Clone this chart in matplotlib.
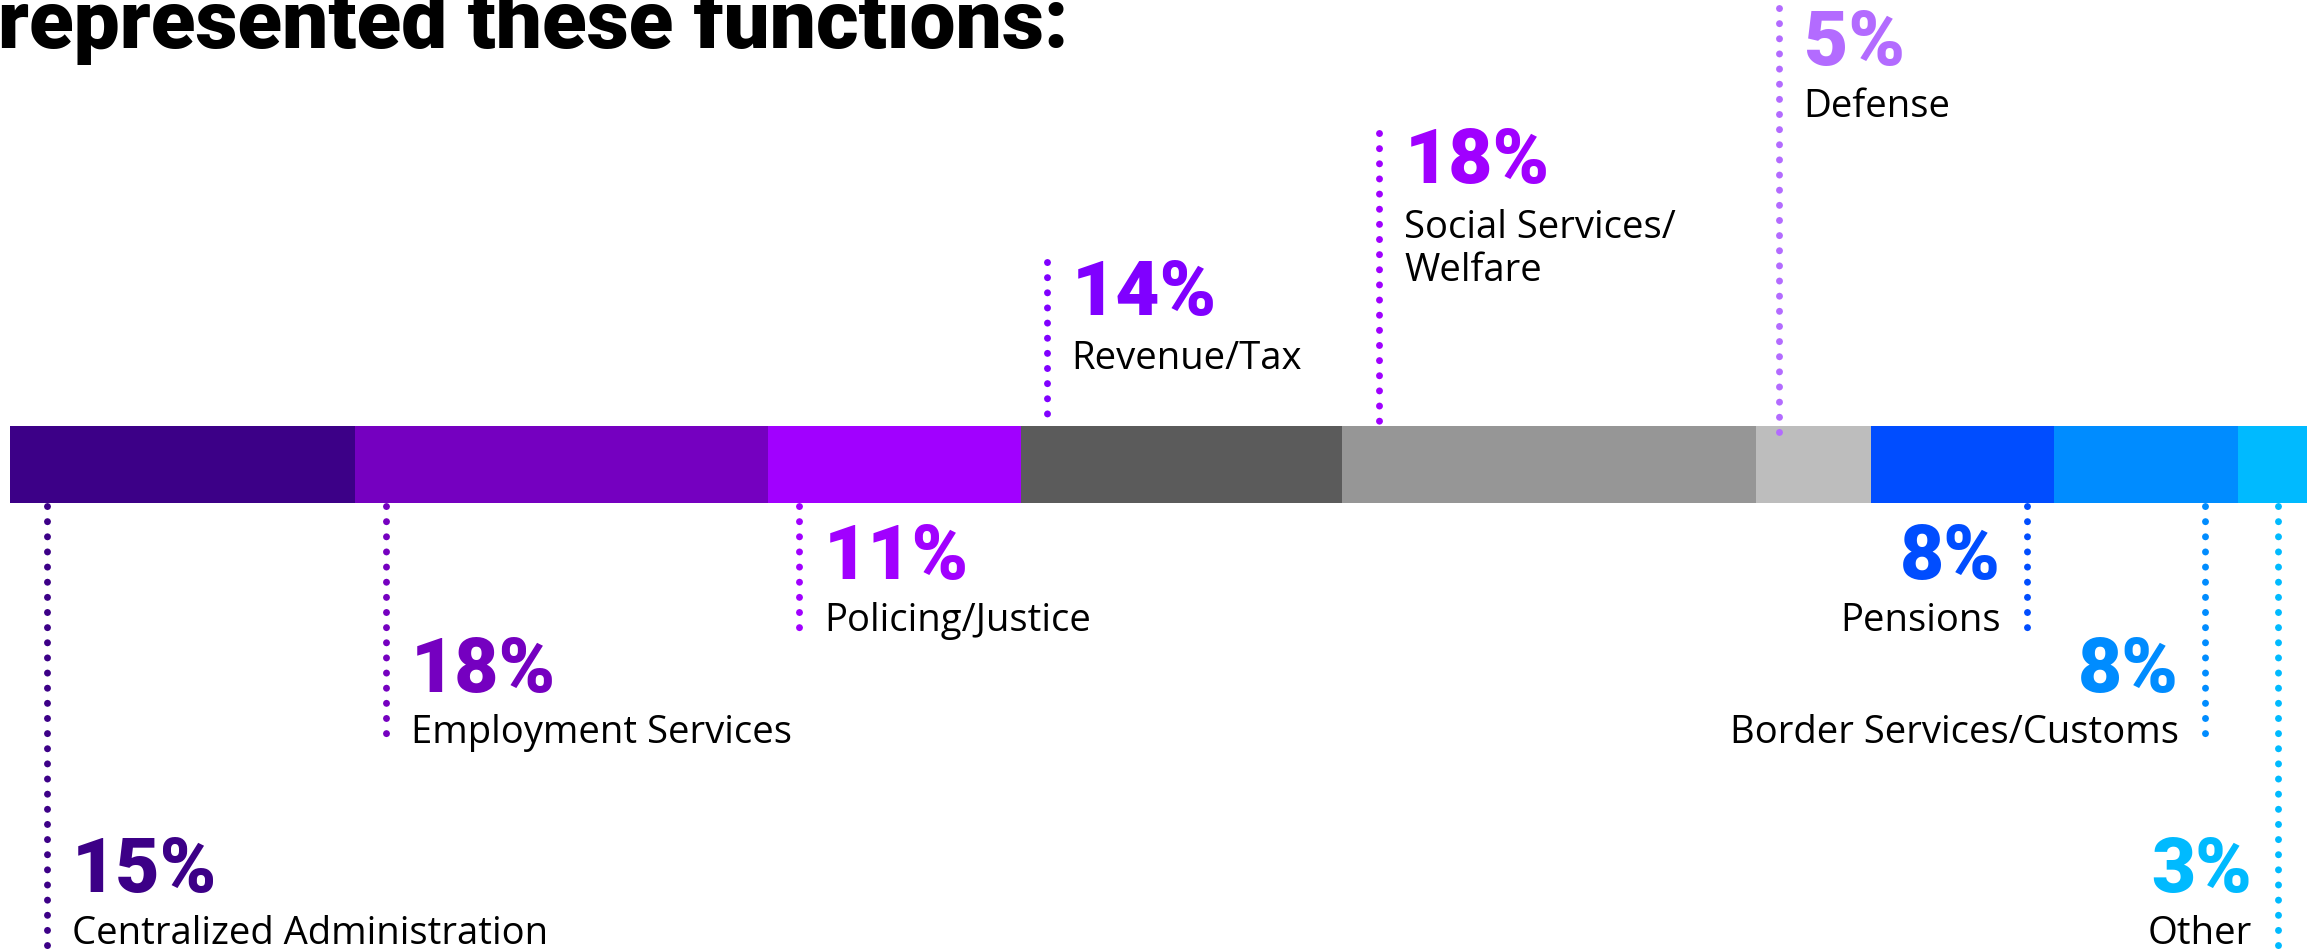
import matplotlib
matplotlib.use("Agg")
import matplotlib.pyplot as plt

# Share of respondents by government function
functions = ["Centralized Administration", "Employment Services", "Policing/Justice",
             "Revenue/Tax", "Social Services/\nWelfare", "Defense",
             "Pensions", "Border Services/Customs", "Other"]
shares = [15, 18, 11, 14, 18, 5, 8, 8, 3]
bar_colors = ["#3C0087", "#7500C0", "#A100FF", "#5B5B5B", "#969696", "#BDBDBD",
              "#004DFF", "#008CFF", "#00BAFF"]
text_colors = ["#3C0087", "#7500C0", "#A100FF", "#8000FF", "#A000FF", "#B36BFF",
               "#004DFF", "#008CFF", "#00BAFF"]
title = "represented these functions:"

# Layout (pixel units): callout side, leader inset from segment edge,
# leader line span, baselines of value and name
callouts = [
    ("L", 37, 506, 949, 892, 944),
    ("L", 31, 506, 746, 692, 743),
    ("L", 31, 506, 628, 579, 631),
    ("L", 26, 262, 422, 315, 369),
    ("L", 37, 133, 422, 183, 238),
    ("L", 23, 8, 440, 65, 117),
    ("R", 27, 506, 628, 579, 631),
    ("R", 33, 506, 746, 692, 743),
    ("R", 29, 506, 949, 892, 944),
]

W, H = 2318, 949
BAR_L, BAR_R = 10, 2307
BAR_TOP, BAR_BOT = 426, 503
px_per_unit = (BAR_R - BAR_L) / sum(shares)

FAMILY = ["Roboto", "DejaVu Sans"]
LABEL_FAMILY = ["Open Sans", "DejaVu Sans"]

fig = plt.figure(figsize=(W / 100, H / 100), dpi=100)
ax = fig.add_axes([0, 0, 1, 1])
ax.set_xlim(-BAR_L / px_per_unit, sum(shares) + (W - BAR_R) / px_per_unit)
ax.set_ylim(H, 0)
ax.axis("off")

lefts = [sum(shares[:i]) for i in range(len(shares))]
ax.barh([(BAR_TOP + BAR_BOT) / 2] * len(shares), shares, left=lefts,
        height=BAR_BOT - BAR_TOP, color=bar_colors, linewidth=0, zorder=1)

dot_lw = 5.0  # points; 7 px dots
for name, val, left, tcol, (side, inset, y0, y1, yv, yn) in zip(
        functions, shares, lefts, text_colors, callouts):
    if side == "L":
        x = left + inset / px_per_unit
        dx, ha = 25, "left"
    else:
        x = left + val - inset / px_per_unit
        dx, ha = -26, "right"
    ax.plot([x, x], [y0, y1], color=tcol, lw=dot_lw,
            linestyle=(0, (0.01, 2.17)), dash_capstyle="round", zorder=3)
    ax.annotate(f"{val}%", xy=(x, yv), xytext=(dx, 0), textcoords="offset pixels",
                ha=ha, va="baseline", fontsize=55, fontweight="black",
                color=tcol, family=FAMILY)
    for i, line in enumerate(name.split("\n")):
        ax.annotate(line, xy=(x, yn + 43 * i), xytext=(dx, 0),
                    textcoords="offset pixels", ha=ha, va="baseline",
                    fontsize=27.5, color="#000000", family=LABEL_FAMILY)

ax.annotate(title, xy=(-BAR_L / px_per_unit, 48), xytext=(-2, 0),
            textcoords="offset pixels", ha="left", va="baseline",
            fontsize=59, fontweight="black", color="#000000", family=FAMILY)

fig.savefig("out.png", dpi=100, facecolor="white")
